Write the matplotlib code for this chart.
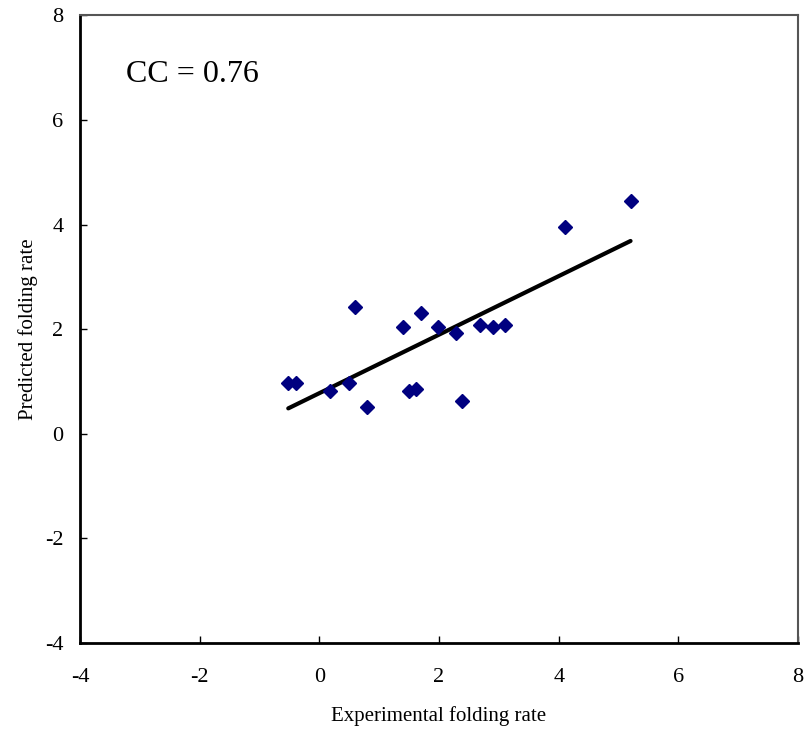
import numpy as np
import matplotlib.pyplot as plt

plt.rcParams['font.family'] = ['Liberation Serif', 'DejaVu Serif']
plt.rcParams['axes.unicode_minus'] = False

# Experimental vs predicted folding rates
experimental = [-0.52, -0.39, 0.18, 0.49, 0.59, 0.80, 1.39, 1.49, 1.61,
                1.69, 1.99, 2.29, 2.39, 2.69, 2.90, 3.10, 4.10, 5.20]
predicted = [0.97, 0.97, 0.82, 0.97, 2.42, 0.51, 2.04, 0.82, 0.86,
             2.31, 2.04, 1.92, 0.62, 2.08, 2.04, 2.08, 3.95, 4.45]
cc_text = "CC = 0.76"

x = np.array(experimental)
y = np.array(predicted)

# linear trend line over the data range
slope, intercept = np.polyfit(x, y, 1)
xl = np.array([x.min(), x.max()])

fig = plt.figure(figsize=(8.1, 7.29), dpi=100)
ax = fig.add_axes([0.0988, 0.118, 0.8865, 0.861])

ax.plot(x, y, 'D', color='#000080', markersize=6.8, zorder=3)
ax.plot(xl, slope*xl + intercept, color='black', lw=3, solid_capstyle='round', zorder=2)

ax.set_xlim(-4, 8)
ax.set_ylim(-4, 8)
ax.set_xticks(np.arange(-4, 9, 2))
ax.set_yticks(np.arange(-4, 9, 2))
ax.tick_params(direction='in', length=5, width=1, labelsize=16)
ax.tick_params(axis='x', pad=18)
ax.tick_params(axis='y', pad=12)

for s in ['left', 'bottom']:
    ax.spines[s].set_linewidth(2)
    ax.spines[s].set_color('black')
for s in ['top', 'right']:
    ax.spines[s].set_linewidth(1.5)
    ax.spines[s].set_color('#555555')

ax.set_xlabel("Experimental folding rate", fontsize=15, labelpad=14)
ax.set_ylabel("Predicted folding rate", fontsize=15, labelpad=5)

ax.text(0.064, 0.905, cc_text, transform=ax.transAxes, fontsize=23,
        ha='left', va='center')

fig.savefig('out.png', dpi=100)
